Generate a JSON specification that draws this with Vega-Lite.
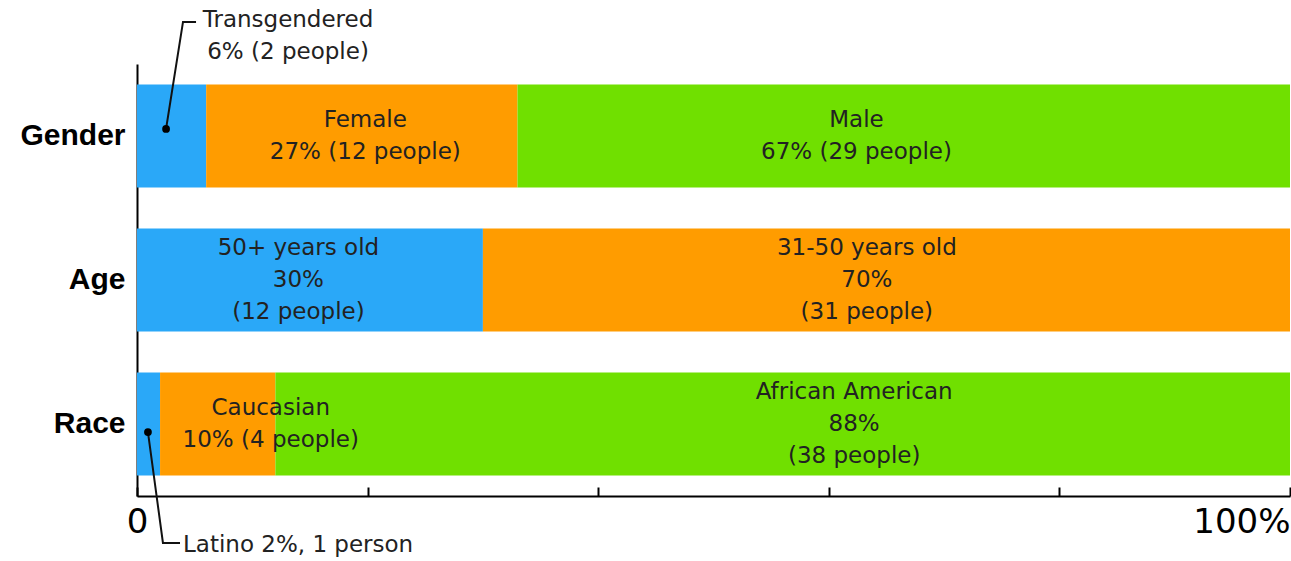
{
  "$schema": "https://vega.github.io/schema/vega-lite/v6.json",
  "autosize": "none",
  "width": 1153,
  "height": 432,
  "padding": {"left": 137, "top": 64, "right": 1, "bottom": 65},
  "background": "white",
  "config": {
    "view": {"stroke": null},
    "axis": {"grid": false}
  },
  "datasets": {
    "segments": [
      {"category": "Gender", "group": "Transgendered", "percent": 6, "slot": 1},
      {"category": "Gender", "group": "Female", "percent": 27, "slot": 2},
      {"category": "Gender", "group": "Male", "percent": 67, "slot": 3},
      {"category": "Age", "group": "50+ years old", "percent": 30, "slot": 1},
      {"category": "Age", "group": "31-50 years old", "percent": 70, "slot": 2},
      {"category": "Race", "group": "Latino", "percent": 2, "slot": 1},
      {"category": "Race", "group": "Caucasian", "percent": 10, "slot": 2},
      {"category": "Race", "group": "African American", "percent": 88, "slot": 3}
    ],
    "inlabels": [
      {"category": "Gender", "at": 19.8, "label": "Female\n27% (12 people)"},
      {"category": "Gender", "at": 62.4, "label": "Male\n67% (29 people)"},
      {"category": "Age", "at": 14.0, "label": "50+ years old\n30%\n(12 people)"},
      {"category": "Age", "at": 63.3, "label": "31-50 years old\n70%\n(31 people)"},
      {"category": "Race", "at": 11.6, "label": "Caucasian\n10% (4 people)"},
      {"category": "Race", "at": 62.2, "label": "African American\n88%\n(38 people)"}
    ],
    "leaders": [
      {"callout": "Transgendered", "pt": 1, "at": 2.52, "row": 0.451},
      {"callout": "Transgendered", "pt": 2, "at": 3.99, "row": -0.292},
      {"callout": "Transgendered", "pt": 3, "at": 5.12, "row": -0.292},
      {"callout": "Latino", "pt": 1, "at": 0.95, "row": 2.556},
      {"callout": "Latino", "pt": 2, "at": 2.25, "row": 3.326},
      {"callout": "Latino", "pt": 3, "at": 3.73, "row": 3.326}
    ],
    "callouts": [
      {"callout": "Transgendered", "at": 13.1, "row": -0.306, "label": "Transgendered\n6% (2 people)", "anchor": "center"},
      {"callout": "Latino", "at": 3.99, "row": 3.34, "label": "Latino 2%, 1 person", "anchor": "left"}
    ]
  },
  "layer": [
    {
      "layer": [
        {
          "data": {"name": "segments"},
          "mark": {"type": "bar"},
          "encoding": {
            "y": {
              "field": "category", "type": "nominal",
              "scale": {"domain": ["Gender", "Age", "Race"], "paddingInner": 0.285, "paddingOuter": 0.1425},
              "axis": {
                "title": null, "ticks": false, "domainColor": "#000", "domainWidth": 2,
                "labelFont": "Liberation Sans", "labelFontWeight": "bold", "labelFontSize": 30,
                "labelColor": "#000", "labelPadding": 12
              }
            },
            "x": {
              "field": "percent", "type": "quantitative", "stack": "zero",
              "scale": {"domain": [0, 100], "nice": false},
              "axis": {
                "title": null, "values": [0, 20, 40, 60, 80, 100],
                "labelExpr": "datum.value == 0 ? '0' : datum.value == 100 ? '100%' : ''",
                "labelAlign": {"condition": {"test": "datum.value == 100", "value": "right"}, "value": "center"},
                "labelOverlap": false, "labelFont": "DejaVu Sans", "labelFontSize": 34, "labelColor": "#000",
                "labelPadding": 18, "tickSize": -9, "tickWidth": 2, "tickColor": "#000",
                "domainColor": "#000", "domainWidth": 2
              }
            },
            "color": {
              "field": "slot", "type": "nominal",
              "scale": {"domain": [1, 2, 3], "range": ["#2aa8f8", "#ff9c00", "#70e000"]},
              "legend": null
            },
            "order": {"field": "slot", "type": "quantitative"}
          }
        },
        {
          "data": {"name": "inlabels"},
          "transform": [{"filter": "length(split(datum.label, '\\n')) == 2"}],
          "mark": {"type": "text", "font": "DejaVu Sans", "fontSize": 23, "color": "#222", "lineBreak": "\n", "lineHeight": 32, "align": "center", "baseline": "middle", "dy": -16},
          "encoding": {
            "y": {"field": "category", "type": "nominal", "scale": {"domain": ["Gender", "Age", "Race"]}},
            "x": {"field": "at", "type": "quantitative"},
            "text": {"field": "label"}
          }
        },
        {
          "data": {"name": "inlabels"},
          "transform": [{"filter": "length(split(datum.label, '\\n')) == 3"}],
          "mark": {"type": "text", "font": "DejaVu Sans", "fontSize": 23, "color": "#222", "lineBreak": "\n", "lineHeight": 32, "align": "center", "baseline": "middle", "dy": -32},
          "encoding": {
            "y": {"field": "category", "type": "nominal", "scale": {"domain": ["Gender", "Age", "Race"]}},
            "x": {"field": "at", "type": "quantitative"},
            "text": {"field": "label"}
          }
        }
      ]
    },
    {
      "layer": [
        {
          "data": {"name": "leaders"},
          "mark": {"type": "line", "color": "#111", "strokeWidth": 2},
          "encoding": {
            "x": {"field": "at", "type": "quantitative"},
            "y": {"field": "row", "type": "quantitative", "scale": {"domain": [0, 3], "reverse": true, "nice": false, "zero": false}, "axis": null},
            "detail": {"field": "callout"},
            "order": {"field": "pt", "type": "quantitative"}
          }
        },
        {
          "data": {"name": "leaders"},
          "transform": [{"filter": "datum.pt == 1"}],
          "mark": {"type": "point", "filled": true, "color": "#000", "size": 60, "opacity": 1},
          "encoding": {
            "x": {"field": "at", "type": "quantitative"},
            "y": {"field": "row", "type": "quantitative", "axis": null}
          }
        },
        {
          "data": {"name": "callouts"},
          "transform": [{"filter": "datum.anchor == 'center'"}],
          "mark": {"type": "text", "font": "DejaVu Sans", "fontSize": 23, "color": "#222", "lineBreak": "\n", "lineHeight": 32, "align": "center", "baseline": "middle"},
          "encoding": {
            "x": {"field": "at", "type": "quantitative"},
            "y": {"field": "row", "type": "quantitative", "axis": null},
            "text": {"field": "label"}
          }
        },
        {
          "data": {"name": "callouts"},
          "transform": [{"filter": "datum.anchor == 'left'"}],
          "mark": {"type": "text", "font": "DejaVu Sans", "fontSize": 23, "color": "#222", "align": "left", "baseline": "middle"},
          "encoding": {
            "x": {"field": "at", "type": "quantitative"},
            "y": {"field": "row", "type": "quantitative", "axis": null},
            "text": {"field": "label"}
          }
        }
      ]
    }
  ],
  "resolve": {"scale": {"y": "independent"}}
}
